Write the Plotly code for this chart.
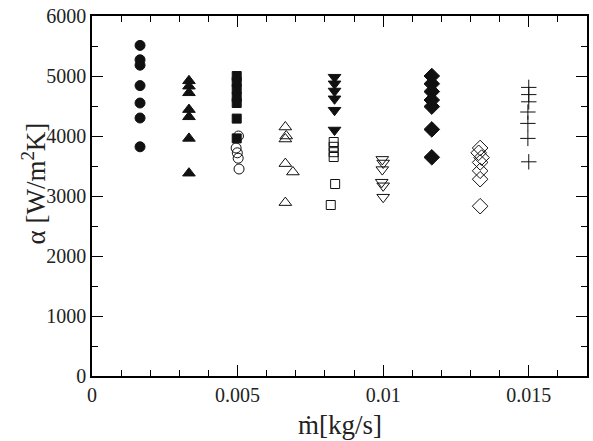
import plotly.graph_objects as go

# ---- data ----
x_fc = [0.00165] * 7
y_fc = [5510, 5270, 5180, 4840, 4550, 4300, 3820]

x_ftu = [0.00333] * 7
y_ftu = [4920, 4830, 4720, 4440, 4320, 3960, 3380]

x_fsq = [0.00497] * 7
y_fsq = [5000, 4900, 4780, 4650, 4550, 4290, 3960]

x_oc = [0.00503, 0.00495, 0.00499, 0.00502, 0.00505]
y_oc = [4000, 3800, 3720, 3630, 3450]

x_otu = [0.00664, 0.00667, 0.00664, 0.00664, 0.00690, 0.00664]
y_otu = [4150, 4000, 3950, 3540, 3400, 2890]

x_ftd = [0.00833] * 6
y_ftd = [4980, 4870, 4750, 4620, 4430, 4100]

x_osq = [0.0083, 0.0083, 0.0083, 0.0083, 0.00835, 0.0082]
y_osq = [3900, 3820, 3730, 3650, 3200, 2850]

x_otd = [0.00997, 0.0100, 0.00997, 0.00995, 0.0100, 0.0100]
y_otd = [3610, 3550, 3440, 3230, 3170, 2980]

x_fd = [0.01167] * 7
y_fd = [5000, 4870, 4740, 4600, 4490, 4110, 3645]

x_od = [0.01333, 0.01328, 0.01338, 0.01333, 0.01333, 0.01333, 0.01333]
y_od = [3800, 3720, 3640, 3560, 3420, 3280, 2830]

x_cr = [0.0150, 0.0150, 0.0150, 0.01497, 0.01497, 0.01497, 0.0150]
y_cr = [4810, 4690, 4570, 4400, 4210, 3960, 3570]

series = [
    (x_fc, y_fc, "circle", 10),
    (x_ftu, y_ftu, "triangle-up", 11),
    (x_fsq, y_fsq, "square", 9),
    (x_oc, y_oc, "circle-open", 10),
    (x_otu, y_otu, "triangle-up-open", 11),
    (x_ftd, y_ftd, "triangle-down", 11),
    (x_osq, y_osq, "square-open", 9),
    (x_otd, y_otd, "triangle-down-open", 11),
    (x_fd, y_fd, "diamond", 12),
    (x_od, y_od, "diamond-open", 12),
    (x_cr, y_cr, "cross-thin-open", 11),
]

fig = go.Figure()
for xs, ys, sym, sz in series:
    fig.add_trace(go.Scatter(
        x=xs, y=ys, mode="markers",
        marker=dict(symbol=sym, size=sz, color="#111111",
                    line=dict(width=1, color="#111111")),
        showlegend=False,
    ))

font_family = "Liberation Serif, Times New Roman, serif"
axis_common = dict(
    showline=True, linecolor="black", linewidth=1.5, mirror="allticks",
    ticks="inside", ticklen=11, tickwidth=1.2, tickcolor="black",
    showgrid=False, zeroline=False,
    tickfont=dict(family=font_family, size=20, color="#222222"),
)

fig.update_xaxes(
    range=[0, 0.017], dtick=0.005, tick0=0,
    minor=dict(dtick=0.001, tick0=0, ticks="inside", ticklen=6,
               tickwidth=1, tickcolor="black"),
    **axis_common,
)
fig.update_yaxes(
    range=[0, 6000], dtick=1000, tick0=0, tickformat="d",
    minor=dict(dtick=500, tick0=0, ticks="inside", ticklen=6,
               tickwidth=1, tickcolor="black"),
    **axis_common,
)

fig.add_annotation(
    text="ṁ[kg/s]", xref="paper", yref="paper", x=0.5, y=-0.135,
    xanchor="center", yanchor="middle", showarrow=False,
    font=dict(family=font_family, size=27, color="#222222"),
)
fig.add_annotation(
    text="α [W/m<sup>2</sup>K]", xref="paper", yref="paper",
    x=-0.117, y=0.535, xanchor="center", yanchor="middle",
    textangle=-90, showarrow=False,
    font=dict(family=font_family, size=27, color="#222222"),
)

fig.update_layout(
    width=593, height=441,
    margin=dict(l=92, r=4, t=16, b=65),
    paper_bgcolor="white", plot_bgcolor="white",
)

fig.write_html("out.html")
